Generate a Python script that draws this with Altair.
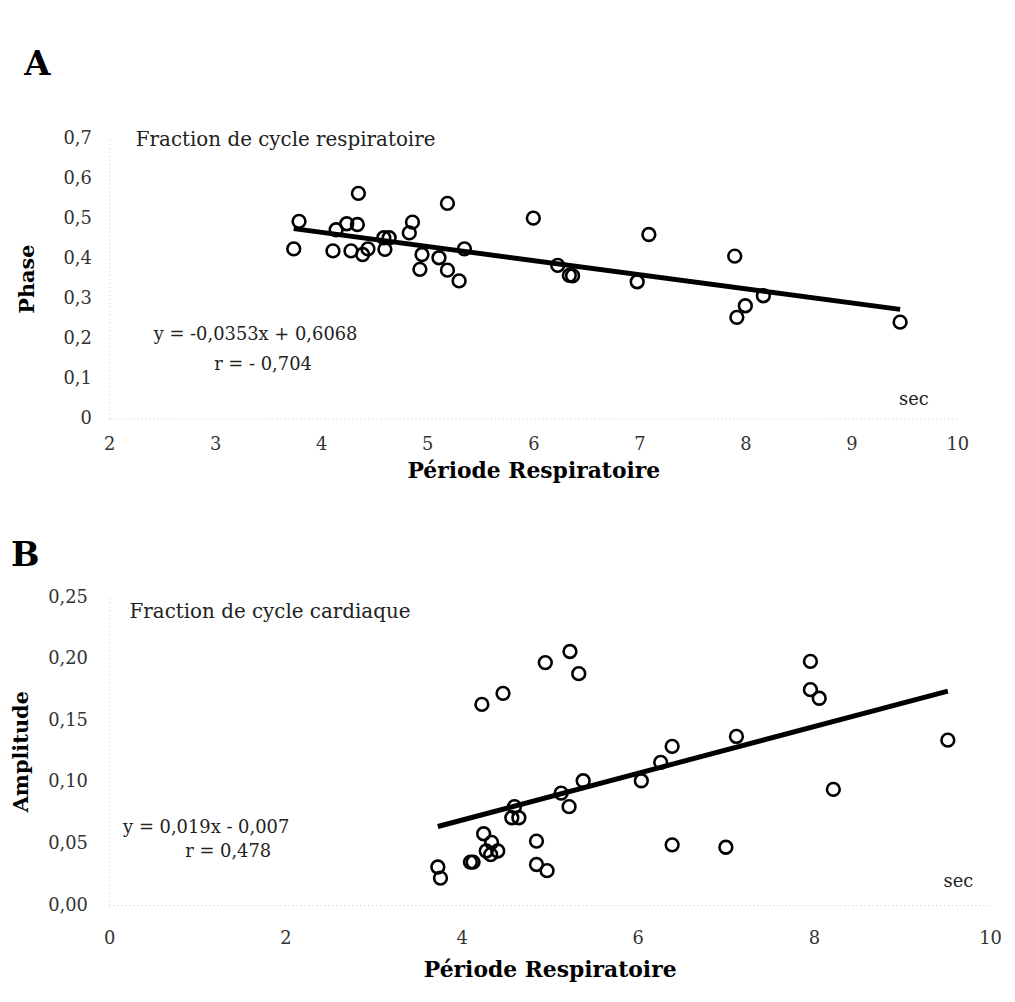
import altair as alt
import pandas as pd

SERIF = "DejaVu Serif"

# ---------- Panel A data (Période respiratoire vs Phase) ----------
period_a = [3.74, 3.79, 4.35, 4.11, 4.14, 4.24, 4.34, 4.28, 4.39, 4.44, 4.59,
            4.64, 4.60, 4.83, 4.86, 4.95, 4.93, 5.11, 5.19, 5.19, 5.30, 5.35,
            6.00, 6.23, 6.34, 6.37, 6.98, 7.09, 7.90, 8.17, 8.00, 7.92, 9.46]
phase_a = [0.424, 0.493, 0.563, 0.419, 0.472, 0.487, 0.485, 0.419, 0.410, 0.424, 0.452,
           0.452, 0.423, 0.464, 0.491, 0.410, 0.373, 0.402, 0.371, 0.538, 0.344, 0.424,
           0.501, 0.383, 0.358, 0.357, 0.342, 0.460, 0.406, 0.307, 0.282, 0.253, 0.241]
slope_a, intercept_a = -0.0353, 0.6068
fit_range_a = [3.74, 9.46]

# ---------- Panel B data (Période respiratoire vs Amplitude) ----------
period_b = [3.73, 3.76, 4.10, 4.13, 4.25, 4.23, 4.47, 4.34, 4.28, 4.33, 4.41, 4.85,
            4.85, 4.97, 4.95, 5.23, 5.33, 4.60, 4.57, 4.65, 5.13, 5.22, 5.38, 6.04,
            6.26, 6.39, 7.12, 6.39, 7.00, 7.96, 7.96, 8.06, 8.22, 9.52]
amp_b = [0.031, 0.022, 0.035, 0.035, 0.058, 0.163, 0.172, 0.051, 0.044, 0.041, 0.044, 0.052,
         0.033, 0.028, 0.197, 0.206, 0.188, 0.080, 0.071, 0.071, 0.091, 0.080, 0.101, 0.101,
         0.116, 0.129, 0.137, 0.049, 0.047, 0.198, 0.175, 0.168, 0.094, 0.134]
slope_b, intercept_b = 0.019, -0.007
fit_range_b = [3.73, 9.52]

xticks_a = [2, 3, 4, 5, 6, 7, 8, 9, 10]
yticks_a = [0, 0.1, 0.2, 0.3, 0.4, 0.5, 0.6, 0.7]
xticks_b = [0, 2, 4, 6, 8, 10]
yticks_b = [0, 0.05, 0.10, 0.15, 0.20, 0.25]

notes_a = pd.DataFrame({
    "x": [2.25, 3.38, 3.45, 9.59],
    "y": [0.695, 0.208, 0.134, 0.047],
    "t": ["Fraction de cycle respiratoire", "y = -0,0353x + 0,6068", "r = - 0,704", "sec"],
    "a": ["left", "center", "center", "center"],
})
notes_b = pd.DataFrame({
    "x": [0.23, 1.10, 1.35, 9.64],
    "y": [0.238, 0.063, 0.043, 0.0185],
    "t": ["Fraction de cycle cardiaque", "y = 0,019x - 0,007", "r = 0,478", "sec"],
    "a": ["left", "center", "center", "center"],
})

dfa = pd.DataFrame({"periode": period_a, "val": phase_a})
dfb = pd.DataFrame({"periode": period_b, "val": amp_b})
fita = pd.DataFrame({"periode": fit_range_a,
                     "val": [slope_a * v + intercept_a for v in fit_range_a]})
fitb = pd.DataFrame({"periode": fit_range_b,
                     "val": [slope_b * v + intercept_b for v in fit_range_b]})


def axis_common(**kw):
    base = dict(grid=False, ticks=False, domainColor="#c8c8c8", domainDash=[1, 3],
                domainWidth=1, labelFont=SERIF, labelFontSize=18, labelColor="#333",
                titleFont=SERIF, titleFontSize=22, titleFontWeight="bold", titleColor="#000")
    base.update(kw)
    return alt.Axis(**base)


def panel(df, fit, notes, xdom, ydom, xticks, yticks, ytitle, yfmt, w, h, letter,
          letter_dx, letter_off, ylabpad, xlabpad, ytitlepad, xtitlepad):
    x = alt.X("periode:Q", scale=alt.Scale(domain=xdom, nice=False, zero=False),
              axis=axis_common(values=xticks, title="Période Respiratoire", format="d",
                               labelFlush=False, labelPadding=xlabpad,
                               titlePadding=xtitlepad))
    y = alt.Y("val:Q", scale=alt.Scale(domain=ydom, nice=False),
              axis=axis_common(values=yticks, title=ytitle, labelExpr=yfmt,
                               labelPadding=ylabpad, titlePadding=ytitlepad,
                               titleFontSize=21))
    pts = alt.Chart(df).mark_point(shape="circle", size=165, filled=False,
                                   color="black", strokeWidth=2.6, opacity=1).encode(x=x, y=y)
    line = alt.Chart(fit).mark_line(color="black", strokeWidth=5).encode(
        x="periode:Q", y="val:Q")
    txt_left = alt.Chart(notes[notes["a"] == "left"]).mark_text(
        font=SERIF, fontSize=20, color="#222", align="left", baseline="middle").encode(
        x="x:Q", y="y:Q", text="t:N")
    txt_center = alt.Chart(notes[notes["a"] == "center"]).mark_text(
        font=SERIF, fontSize=18, color="#222", align="center", baseline="middle").encode(
        x="x:Q", y="y:Q", text="t:N")
    return alt.layer(line, pts, txt_left, txt_center).properties(
        width=w, height=h,
        title=alt.TitleParams(letter, anchor="start", frame="bounds", font=SERIF,
                              fontSize=34, fontWeight="bold", color="#000",
                              offset=letter_off, dx=letter_dx))


fmt_a = "datum.value == 0 ? '0' : replace(format(datum.value, '.1f'), '.', ',')"
fmt_b = "replace(format(datum.value, '.2f'), '.', ',')"

chart_a = panel(dfa, fita, notes_a, [2, 10], [0, 0.7], xticks_a, yticks_a, "Phase", fmt_a,
                854, 282, "A", 8, 48, 18, 17, 26, 7)
chart_b = panel(dfb, fitb, notes_b, [0, 10], [0, 0.25], xticks_b, yticks_b, "Amplitude", fmt_b,
                887, 310, "B", 0, 16, 22, 25, 16, 12)

chart = alt.vconcat(chart_a, chart_b, spacing=58).properties(
    padding={"left": 2, "top": 37, "right": 5, "bottom": 5}
).configure(background="white").configure_view(strokeWidth=0)

chart.save("out.html", embed_options={"renderer": "svg", "actions": False})
